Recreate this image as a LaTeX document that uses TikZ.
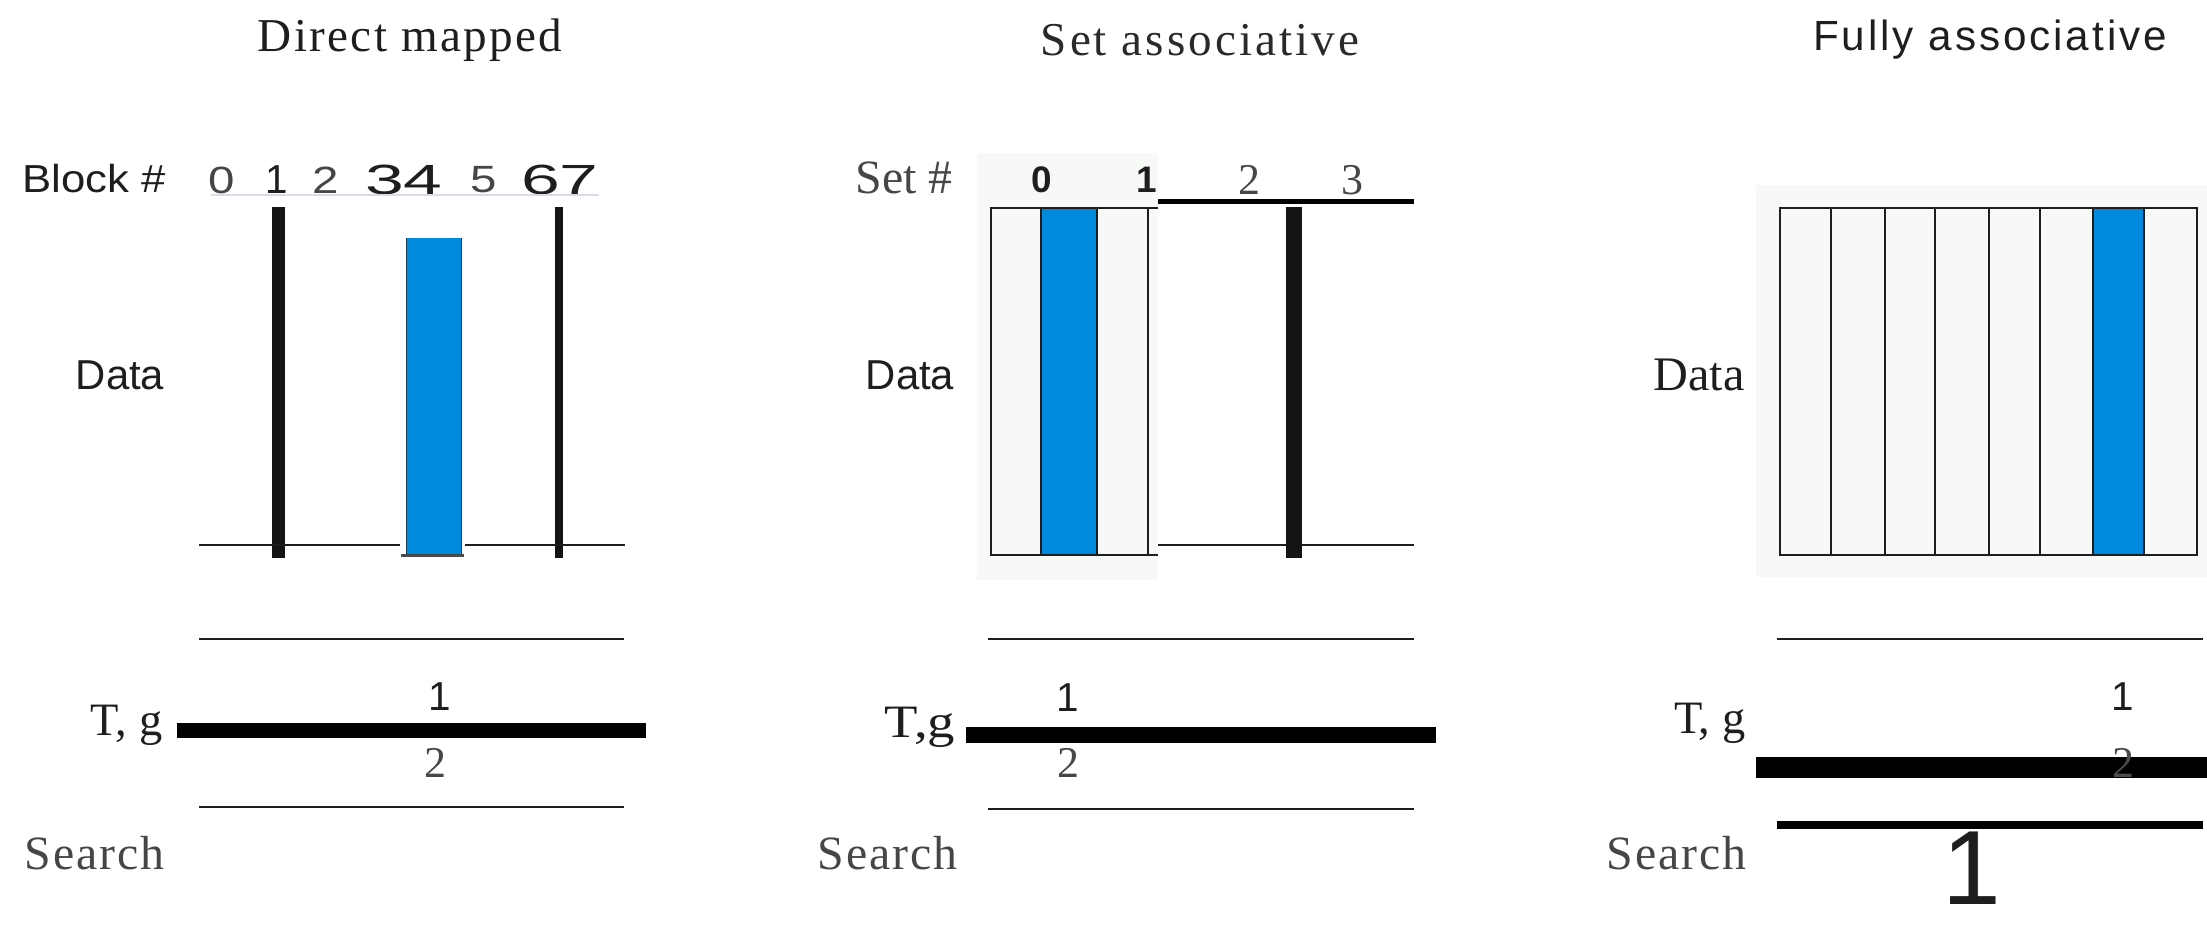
\documentclass[tikz,border=0pt]{standalone}
\usepackage{fontspec}
\setmainfont{Liberation Serif}
\setsansfont{Liberation Sans}
\newfontfamily\titserif[LetterSpace=5]{Liberation Serif}
\newfontfamily\titserifb[LetterSpace=6.5]{Liberation Serif}
\newfontfamily\titsans[LetterSpace=7]{Liberation Sans}
\newfontfamily\srchfont[LetterSpace=4]{Liberation Serif}
\definecolor{cblue}{RGB}{0,138,222}
\definecolor{cbg}{RGB}{246,249,246}
\definecolor{ctext}{RGB}{30,30,30}
\definecolor{cgrey}{RGB}{70,70,70}
\definecolor{cfaint}{RGB}{214,220,232}
\tikzset{
  titleS/.style={inner sep=0pt, text=ctext, font=\titserif\fontsize{13.4}{16}\selectfont},
  titleF/.style={inner sep=0pt, text=ctext, font=\titsans\fontsize{12}{14}\selectfont},
  lblsans/.style={inner sep=0pt, text=ctext, font=\sffamily\fontsize{11.9}{14}\selectfont},
  lblserif/.style={inner sep=0pt, text=ctext, font=\rmfamily\fontsize{13.2}{15}\selectfont},
  srch/.style={inner sep=0pt, text=cgrey, font=\srchfont\fontsize{13.6}{15}\selectfont},
  numsans/.style={inner sep=0pt, text=ctext, font=\sffamily\fontsize{11.5}{13}\selectfont},
  numserif/.style={inner sep=0pt, text=cgrey, font=\rmfamily\fontsize{12.5}{14}\selectfont},
  thin/.style={line width=0.027cm, draw=ctext},
}
\begin{document}
\begin{tikzpicture}[x=0.01cm,y=-0.01cm]
\useasboundingbox (0,0) rectangle (2207,924);

%% ---------------- Direct mapped ----------------
\node[titleS] (t1) at (410,40) {Direct mapped};
\node[inner sep=0pt,text=ctext,font=\sffamily\fontsize{11.1}{13}\selectfont,anchor=west] (blk) at (22,179) {\scalebox{1.12}[1]{Block \#}};
\node[numsans,text=cgrey,font=\sffamily\fontsize{10.8}{13}\selectfont] (b0) at (222,180) {\scalebox{1.25}[1]{0}};
\node[numsans,font=\sffamily\fontsize{11.5}{13}\selectfont] (b1) at (277,180) {1};
\node[numsans,text=cgrey,font=\sffamily\fontsize{10.8}{13}\selectfont] (b2) at (326,180) {\scalebox{1.25}[1]{2}};
\node[numsans,font=\sffamily\fontsize{12}{13}\selectfont] (b34) at (404,180) {\scalebox{1.65}[1]{34}};
\node[numsans,text=cgrey,font=\sffamily\fontsize{10.8}{13}\selectfont] (b5) at (484,180) {\scalebox{1.25}[1]{5}};
\node[numsans,font=\sffamily\fontsize{12}{13}\selectfont] (b67) at (560,180) {\scalebox{1.65}[1]{67}};
\draw[cfaint,line width=0.012cm] (211,195) -- (599,195);
\fill[black!92] (272,207) rectangle (285,558);
\fill[black!92] (555,207) rectangle (563,558);
\draw[thin] (199,545) -- (400,545);
\draw[thin] (465,545) -- (625,545);
\fill[cblue] (406,238) rectangle (461,555);
\draw[ctext!70!cblue,line width=0.01cm] (406,238) -- (406,555);
\draw[ctext!70!cblue,line width=0.01cm] (461,238) -- (461,555);
\draw[ctext!80,line width=0.03cm] (401,555) -- (464,555);
\node[lblsans] (d1) at (120,375) {Data};
\draw[thin] (199,639) -- (624,639);
\draw[line width=0.15cm,draw=black] (177,730) -- (646,730);
\draw[thin] (199,807) -- (624,807);
\node[numsans] (g1a) at (440,697) {1};
\node[numserif] (g1b) at (435,763) {2};
\node[lblserif,anchor=east] (tg1) at (163,725) {T, g};
\node[srch,anchor=west] (s1) at (24,853) {Search};

%% ---------------- Set associative ----------------
\node[titleS,font=\titserifb\fontsize{13.4}{16}\selectfont,text=cgrey!60!black] (t2) at (1200,40) {Set associative};
\fill[cbg] (977,153) rectangle (1158,580);
\node[lblserif,text=cgrey,font=\rmfamily\fontsize{13.6}{15}\selectfont] (set) at (904,178) {Set \#};
\node[numsans,font=\sffamily\bfseries\fontsize{10.5}{13}\selectfont] (s0) at (1042,180) {0};
\node[numsans,font=\sffamily\bfseries\fontsize{10.5}{13}\selectfont] (s1n) at (1147,180) {1};
\node[numserif] (s2) at (1249,180) {2};
\node[numserif] (s3) at (1352,180) {3};
\draw[black,line width=0.05cm] (1158,201) -- (1414,201);
\fill[cblue] (1041,208) rectangle (1097,555);
\draw[thin] (1158,208) -- (991,208) -- (991,555) -- (1158,555);
\draw[thin] (1041,208) -- (1041,555);
\draw[thin] (1097,208) -- (1097,555);
\draw[thin] (1148,208) -- (1148,555);
\draw[thin] (1158,545) -- (1414,545);
\fill[black!92] (1286,207) rectangle (1302,558);
\node[lblsans] (d2) at (910,375) {Data};
\draw[thin] (988,639) -- (1414,639);
\draw[line width=0.16cm,draw=black] (966,735) -- (1436,735);
\draw[thin] (988,809) -- (1414,809);
\node[numsans] (g2a) at (1068,698) {1};
\node[numserif] (g2b) at (1068,763) {2};
\node[lblserif,anchor=east] (tg2) at (956,727) {\scalebox{1.18}[1]{T,g}};
\node[srch,anchor=west] (s2l) at (817,853) {Search};

%% ---------------- Fully associative ----------------
\node[titleF] (t3) at (1990,40) {Fully associative};
\fill[cbg] (1756,185) rectangle (2207,577);
\fill[cblue] (2093,208) rectangle (2144,555);
\draw[thin] (1780,208) rectangle (2197,555);
\foreach \xx in {1831,1885,1935,1989,2040,2093,2144}
  \draw[thin] (\xx,208) -- (\xx,555);
\node[lblserif,font=\rmfamily\fontsize{13.7}{15}\selectfont] (d3) at (1699,375) {Data};
\draw[thin] (1777,639) -- (2203,639);
\node[lblserif,anchor=east] (tg3) at (1746,723) {T, g};
\draw[line width=0.21cm,draw=black] (1756,767) -- (2207,767);
\node[numsans] (g3a) at (2123,697) {1};
\node[numserif,text=black!70] (g3b) at (2123,763) {2};
\draw[black,line width=0.08cm] (1777,825) -- (2203,825);
\node[srch,anchor=west] (s3) at (1606,853) {Search};
\node[inner sep=0pt,text=ctext,font=\sffamily\fontsize{30}{33}\selectfont] (big1) at (1972,868) {1};
\end{tikzpicture}
\end{document}
